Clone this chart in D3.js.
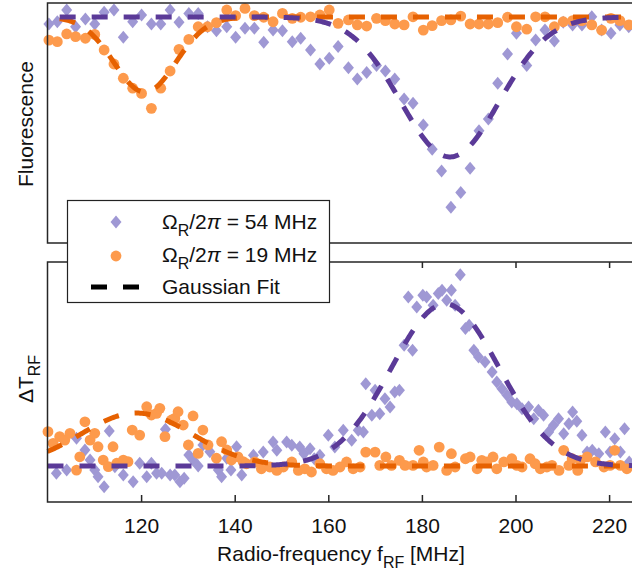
<!DOCTYPE html>
<html><head><meta charset="utf-8">
<script src="https://cdn.jsdelivr.net/npm/d3@7"></script>
<style>
html,body{margin:0;padding:0;background:#fff;}
svg{display:block;font-family:"Liberation Sans",Arial,Helvetica,sans-serif;}
</style></head>
<body><svg id="chart" width="632" height="573"></svg>
<script>
// ---------- data ----------
const xTicks = [120, 140, 160, 180, 200, 220];

// top panel (fluorescence, normalised)
const fTop = [100.3,102.1,104.1,106.0,108.1,110.1,112.1,114.2,116.2,118.2,
  120.1,122.2,124.2,126.2,128.1,130.2,132.2,134.2,136.1,138.3,
  140.2,142.2,144.2,146.2,148.2,150.2,152.3,154.1,156.2,158.2,
  160.2,162.1,164.3,166.2,168.2,170.3,172.2,174.2,176.2,178.1,
  180.3,182.2,184.2,186.2,188.3,190.3,192.2,194.2,196.2,198.3,
  200.2,202.4,204.3,206.3,208.3,210.2,212.2,214.2,216.3,218.4,
  220.4,222.3,224.2];
const fluor54 = [0.969,0.979,1.031,0.957,0.991,0.969,1.021,1.031,0.910,0.979,
  1.009,0.969,0.969,1.031,0.977,1.016,1.016,0.957,0.939,0.957,
  0.910,0.950,0.950,0.888,0.942,0.939,0.891,0.906,0.854,0.792,
  0.817,0.869,0.776,0.726,0.754,0.785,0.761,0.726,0.637,0.618,
  0.522,0.415,0.319,0.158,0.224,0.331,0.497,0.549,0.707,0.836,
  0.928,0.785,0.898,0.942,0.894,0.977,0.965,0.965,1.001,0.942,
  0.928,0.965,0.957];
const fluor19 = [0.898,0.891,0.925,0.913,0.906,0.923,0.854,0.792,0.729,0.685,
  0.662,0.596,0.685,0.761,0.857,0.901,0.957,0.957,0.975,1.031,
  1.006,1.038,1.006,0.999,0.979,1.016,0.994,0.999,1.001,1.009,
  1.031,0.972,0.987,0.965,0.960,0.994,0.984,0.969,0.965,1.001,
  0.942,0.962,0.984,0.987,1.004,0.969,0.969,0.969,0.975,0.999,
  0.957,0.946,1.001,1.001,0.957,0.979,0.984,0.984,0.965,0.942,
  0.994,0.984,0.965];

// bottom panel (Delta T_RF, normalised)
const fBot54 = [101.9,104.1,106.2,108.0,109.1,110.1,110.8,112.1,113.2,114.4,
  116.2,118.3,119.7,121.2,122.2,123.3,124.4,125.2,126.2,127.2,
  128.3,129.2,130.2,131.1,132.2,133.2,134.7,136.5,137.2,138.3,
  139.2,140.4,141.5,144.0,146.1,148.2,149.0,151.1,152.2,153.9,
  154.8,156.1,157.0,158.2,160.0,161.4,163.2,165.0,166.4,167.5,
  168.0,169.3,170.0,171.0,172.1,173.2,174.2,175.2,176.2,177.1,
  178.0,178.9,180.2,181.0,182.4,183.5,184.3,185.3,186.3,187.1,
  188.2,189.3,190.1,191.1,192.1,193.5,195.0,196.0,197.1,198.2,
  199.2,200.3,201.4,202.8,203.9,204.9,206.0,207.1,208.1,209.2,
  210.3,211.4,212.2,213.1,214.2,215.3,216.4,217.8,219.2,220.2,
  221.2,222.4,223.3,224.3];
const dT54 = [-0.045,-0.025,0.171,0.099,0.037,-0.025,-0.066,-0.128,0.216,-0.004,
  -0.056,-0.097,0.017,-0.066,0.017,-0.045,-0.045,0.227,-0.056,-0.056,
  -0.097,-0.076,0.068,0.037,0.000,0.130,0.088,-0.025,-0.066,0.048,
  -0.025,0.119,-0.056,0.066,0.086,0.148,0.097,0.148,0.128,0.117,
  0.076,0.107,0.045,0.066,0.190,0.117,0.220,0.159,0.220,0.210,
  0.508,0.313,0.467,0.323,0.415,0.364,0.457,0.467,0.745,1.043,
  0.714,0.981,1.054,1.043,0.992,1.064,1.085,1.023,1.085,0.992,
  1.181,0.848,0.869,0.714,0.673,0.642,0.580,0.519,0.477,0.436,
  0.395,0.385,0.354,0.364,0.292,0.344,0.313,0.210,0.251,0.292,
  0.199,0.261,0.333,0.276,0.190,0.086,0.097,0.076,0.210,0.086,
  0.169,0.086,0.230,0.025];
const fBot19 = [100.1,101.2,102.6,103.7,104.8,106.2,106.9,108.0,109.1,110.1,
  110.8,111.9,113.0,114.0,114.8,116.2,117.2,118.1,119.7,121.2,
  122.2,123.3,124.0,125.1,126.5,127.2,127.9,129.0,130.1,131.1,
  132.2,133.2,134.3,136.1,137.2,138.3,139.3,140.7,141.8,142.5,
  144.3,145.7,147.5,149.0,150.4,152.2,153.6,155.0,156.4,158.2,
  159.6,161.0,162.5,163.9,165.3,166.8,168.0,170.0,171.0,172.3,
  173.5,175.2,176.4,178.1,179.4,180.3,181.0,182.4,183.7,185.3,
  186.3,187.1,189.3,190.3,191.8,192.8,193.9,195.2,196.0,197.5,
  199.2,200.3,201.4,203.1,204.2,205.3,206.7,207.8,209.3,210.3,
  211.4,212.1,213.3,213.9,215.3,217.1,218.9,220.2,221.2,222.4,
  223.8];
const dT19 = [0.212,0.140,0.181,0.160,0.202,-0.025,0.057,0.273,0.160,0.202,
  0.119,0.037,-0.004,0.119,0.017,0.037,0.027,0.222,0.191,0.366,
  0.315,0.325,0.356,0.181,0.284,0.294,0.335,0.253,0.130,0.309,
  0.078,0.222,0.130,0.048,0.150,0.099,0.037,0.057,0.027,0.014,
  0.025,-0.017,-0.006,-0.027,-0.006,0.025,-0.027,-0.017,-0.037,0.014,
  -0.017,-0.027,-0.006,0.025,-0.017,-0.006,0.086,0.086,0.004,0.056,
  0.004,0.035,0.004,0.004,0.097,0.025,-0.006,0.004,0.117,-0.027,
  0.076,-0.006,0.045,0.056,-0.017,0.035,0.025,0.056,-0.017,0.025,
  0.045,0.004,-0.006,0.045,0.014,-0.017,-0.006,0.004,-0.027,0.097,
  0.004,0.045,-0.027,0.035,0.056,0.025,-0.006,0.004,0.097,0.004,
  -0.017];

// Gaussian fit parameters: [baseline, amplitude, centre MHz, sigma MHz]
const fitTop54 = [1.0, -0.619, 186.0, 10.5];
const fitTop19 = [1.0, -0.332, 120.8, 6.6];
const fitBot54 = [0.0, 1.0, 185.0, 11.5];
const fitBot19 = [0.0, 0.327, 119.0, 11.8];
const fitRangeTop = [102.6, 225];
const fitRangeBot = [100, 225];

const legendLabels = ["54 MHz", "19 MHz", "Gaussian Fit"];

// ---------- styles ----------
const C = {
  dia: "#9f98d4", circ: "#fd9a4c", fit54: "#5b3a98", fit19: "#e66101", axis: "#262626"
};
const FS = 21, FSS = 16;

const svg = d3.select("#chart");
const x = d3.scaleLinear().domain([100, 225]).range([47.5, 632.5]);
const yTop = d3.scaleLinear().domain([0, 1.062]).range([243, 3]);
const yBot = d3.scaleLinear().domain([-0.222, 1.259]).range([502, 262]);

const diamond = "M0,-6.5L5.5,0L0,6.5L-5.5,0Z";

function gauss(p, f) { return p[0] + p[1] * Math.exp(-((f - p[2]) ** 2) / (2 * p[3] * p[3])); }

function panel(y, fA, vA, fB, vB, pA, pB, range) {
  const g = svg.append("g");
  g.append("g").selectAll("path").data(fA.map((f, i) => [f, vA[i]])).join("path")
    .attr("d", diamond).attr("fill", C.dia)
    .attr("transform", d => `translate(${x(d[0])},${y(d[1])})`);
  g.append("g").selectAll("circle").data(fB.map((f, i) => [f, vB[i]])).join("circle")
    .attr("cx", d => x(d[0])).attr("cy", d => y(d[1])).attr("r", 5.4).attr("fill", C.circ);
  const xs = d3.range(range[0], range[1] + 0.001, 0.25);
  const line = p => d3.line().x(f => x(f)).y(f => y(gauss(p, f)))(xs);
  g.append("path").attr("d", line(pB)).attr("fill", "none").attr("stroke", C.fit19)
    .attr("stroke-width", 5).attr("stroke-dasharray", "16,16");
  g.append("path").attr("d", line(pA)).attr("fill", "none").attr("stroke", C.fit54)
    .attr("stroke-width", 5).attr("stroke-dasharray", "16,16");
  const [x0, x1] = x.range();
  const yy0 = y.range()[1], yy1 = y.range()[0];
  g.append("path").attr("d", `M${x1 + 2},${yy0}H${x0}V${yy1}H${x1 + 2}`)
    .attr("fill", "none").attr("stroke", C.axis).attr("stroke-width", 1.5);
  return g;
}

panel(yTop, fTop, fluor54, fTop, fluor19, fitTop54, fitTop19, fitRangeTop);
const gb = panel(yBot, fBot54, dT54, fBot19, dT19, fitBot54, fitBot19, fitRangeBot);

gb.append("g").attr("transform", "translate(0,502)")
  .call(d3.axisBottom(x).tickValues(xTicks).tickSize(-7).tickPadding(16).tickFormat(d3.format("d")))
  .call(a => a.select(".domain").remove())
  .call(a => a.selectAll("line").attr("stroke", C.axis).attr("stroke-width", 1.5))
  .call(a => a.selectAll("text").attr("font-size", FS).attr("fill", "#111").attr("font-family", "Liberation Sans, Arial, sans-serif"));
gb.append("g").attr("transform", "translate(0,262)")
  .call(d3.axisTop(x).tickValues(xTicks).tickSize(-6).tickFormat(""))
  .call(a => a.select(".domain").remove())
  .call(a => a.selectAll("line").attr("stroke", C.axis).attr("stroke-width", 1.5));

const xl = svg.append("text").attr("x", 341).attr("y", 561).attr("text-anchor", "middle")
  .attr("font-size", FS).attr("fill", "#111");
xl.append("tspan").text("Radio-frequency f");
xl.append("tspan").attr("dy", 7).attr("font-size", FSS).text("RF");
xl.append("tspan").attr("dy", -7).text(" [MHz]");

svg.append("text").attr("transform", "translate(33,124) rotate(-90)").attr("text-anchor", "middle")
  .attr("font-size", FS).attr("fill", "#111").text("Fluorescence");
const yl = svg.append("text").attr("transform", "translate(33,379) rotate(-90)").attr("text-anchor", "middle")
  .attr("font-size", FS).attr("fill", "#111");
yl.append("tspan").text("ΔT");
yl.append("tspan").attr("dy", 7).attr("font-size", FSS).text("RF");

const lg = svg.append("g");
lg.append("rect").attr("x", 67.5).attr("y", 200.5).attr("width", 262).attr("height", 102)
  .attr("fill", "#fff").attr("stroke", "#222").attr("stroke-width", 1.2);
lg.append("path").attr("d", diamond).attr("fill", C.dia).attr("transform", "translate(116,222)");
lg.append("circle").attr("cx", 116).attr("cy", 256).attr("r", 5.4).attr("fill", C.circ);
lg.append("line").attr("x1", 91).attr("x2", 139).attr("y1", 287).attr("y2", 287)
  .attr("stroke", "#000").attr("stroke-width", 5).attr("stroke-dasharray", "16,16");
[[0, 229], [1, 262]].forEach(([i, by]) => {
  const t = lg.append("text").attr("x", 162).attr("y", by).attr("font-size", FS).attr("fill", "#111");
  t.append("tspan").text("Ω");
  t.append("tspan").attr("dy", 7).attr("font-size", FSS).text("R");
  t.append("tspan").attr("dy", -7).text("/2");
  t.append("tspan").attr("font-style", "italic").text("π");
  t.append("tspan").text(" = " + legendLabels[i]);
});
lg.append("text").attr("x", 162).attr("y", 294).attr("font-size", FS).attr("fill", "#111").text(legendLabels[2]);
</script></body></html>
